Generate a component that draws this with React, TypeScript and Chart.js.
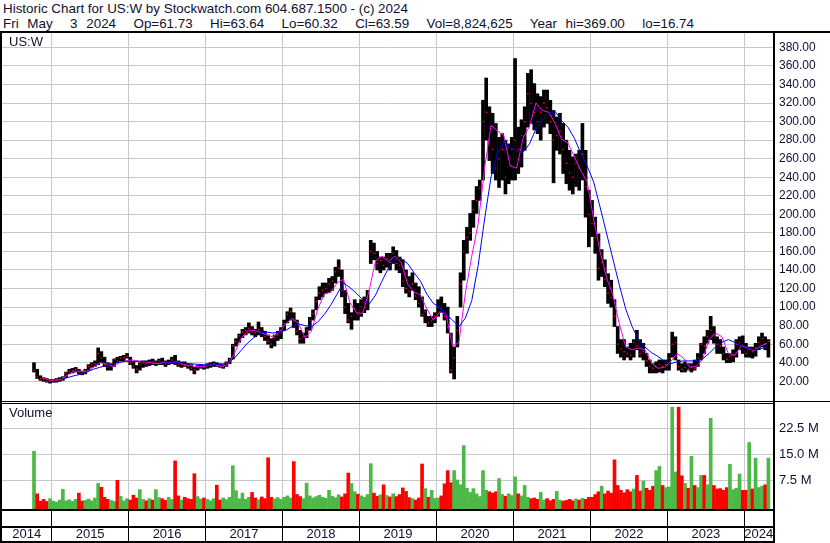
import React, { useEffect, useRef } from 'react';
import { Chart, registerables } from 'chart.js';

Chart.register(...registerables);

const FONT = '"Liberation Sans", Arial, Helvetica, sans-serif';
const TEXT = '#101030';
const GREEN = '#4cb848';
const RED = '#ff0000';

// first half-month period of the series (Oct 2014)
const firstPeriod = 2014.75;

// half-monthly price ranges (US$)
const lows = [
  30, 23, 21, 20, 19, 18,
  19, 19, 20, 21, 24, 28, 29, 30, 28, 27, 28, 32, 35, 36, 38, 40, 36, 32, 32, 36, 40, 42, 42, 45,
  38, 34, 29, 32, 35, 36, 37, 38, 37, 38, 38, 36, 38, 39, 38, 36, 35, 36, 34, 32, 28, 32, 34, 33,
  34, 35, 36, 36, 35, 34, 36, 39, 44, 58, 62, 67, 70, 72, 70, 68, 70, 68, 64, 60, 56, 58, 64, 66,
  75, 83, 86, 78, 70, 61, 61, 67, 75, 86, 97, 108, 111, 115, 116, 118, 126, 133, 111, 93, 83, 76, 86, 86,
  90, 94, 97, 147, 151, 140, 137, 140, 143, 140, 147, 140, 137, 122, 115, 111, 118, 108, 100, 90, 83, 79, 79, 83,
  90, 94, 86, 72, 29, 22.5, 57, 100, 129, 158, 172, 186, 201, 215, 237, 280, 258, 244, 237, 229, 237, 222, 233, 237,
  237, 244, 251, 269, 294, 298, 291, 287, 280, 294, 298, 287, 234, 269, 265, 244, 233, 226, 222, 230, 226, 237, 197, 165,
  176, 158, 129, 133, 122, 104, 100, 79, 50, 46, 43, 46, 43, 46, 54, 46, 43, 36, 29, 29, 29, 30, 29, 32,
  32, 46, 43, 32, 30, 30, 32, 30, 32, 36, 43, 50, 61, 65, 61, 50, 50, 43, 40, 40, 41, 46, 54, 50,
  46, 46, 45, 47, 54, 57, 54, 46,
];
const highs = [
  40, 33, 26, 24, 23, 22,
  22, 23, 24, 25, 30, 33, 34, 35, 33, 31, 33, 38, 40, 42, 56, 52, 46, 40, 39, 44, 46, 47, 48, 50,
  46, 41, 37, 40, 42, 42, 43, 44, 42, 44, 45, 42, 43, 46, 48, 42, 41, 41, 39, 38, 35, 37, 38, 37,
  39, 40, 41, 40, 39, 38, 41, 45, 60, 66, 71, 76, 78, 83, 79, 76, 84, 78, 74, 70, 66, 70, 74, 78,
  86, 95, 99, 94, 86, 75, 72, 78, 89, 97, 111, 122, 126, 126, 131, 133, 143, 151, 140, 118, 104, 94, 108, 104,
  108, 111, 118, 172, 169, 160, 154, 154, 158, 158, 165, 161, 154, 151, 140, 133, 137, 126, 122, 111, 97, 90, 90, 94,
  108, 111, 104, 100, 72, 57, 90, 137, 172, 186, 201, 215, 230, 237, 323, 347, 316, 309, 298, 283, 287, 280, 276, 283,
  368, 294, 302, 316, 352, 356, 341, 330, 327, 334, 334, 323, 312, 305, 309, 298, 280, 269, 262, 265, 269, 298, 269, 226,
  215, 197, 179, 162, 151, 136, 129, 108, 79, 65, 65, 57, 61, 65, 75, 65, 61, 50, 43, 39, 41, 43, 43, 43,
  50, 73, 68, 43, 39, 41, 39, 39, 43, 50, 61, 68, 75, 90, 79, 68, 65, 57, 50, 50, 54, 65, 68, 69,
  61, 57, 57, 61, 68, 72, 68, 65,
];
const closes = [
  32, 25, 23, 22, 20, 20,
  21, 22, 22, 24, 29, 31, 32, 33, 30, 29, 32, 36, 38, 39, 50, 45, 38, 35, 37, 44, 42, 45, 46, 47,
  40, 36, 33, 38, 40, 39, 41, 40, 41, 42, 41, 38, 40, 43, 40, 38, 38, 37, 36, 34, 32, 35, 36, 35,
  37, 38, 39, 37, 36, 36, 40, 43, 58, 63, 69, 73, 75, 77, 73, 72, 76, 72, 68, 63, 60, 67, 70, 73,
  82, 92, 95, 85, 74, 66, 68, 75, 86, 93, 106, 115, 118, 120, 125, 128, 138, 142, 118, 100, 86, 90, 98, 92,
  100, 105, 110, 160, 158, 147, 150, 145, 152, 148, 158, 147, 145, 128, 120, 117, 125, 112, 104, 92, 95, 83, 85, 90,
  100, 98, 90, 78, 32, 45, 75, 125, 160, 175, 180, 205, 215, 228, 300, 310, 280, 270, 250, 260, 270, 240, 260, 270,
  280, 270, 285, 300, 330, 320, 310, 300, 310, 320, 315, 300, 280, 285, 290, 270, 255, 245, 240, 255, 250, 265, 230, 200,
  190, 175, 142, 148, 130, 115, 110, 90, 60, 55, 52, 50, 48, 62, 58, 50, 52, 42, 36, 34, 35, 38, 36, 38,
  45, 60, 62, 36, 33, 35, 33, 36, 34, 45, 60, 58, 68, 75, 70, 60, 58, 50, 44, 47, 48, 60, 62, 58,
  50, 54, 52, 56, 62, 66, 60, 63,
];
// half-monthly volume (millions of shares)
const volumesM = [
  15.9, 3.6, 1.5, 2.0, 1.4, 2.2,
  1.5, 1.2, 1.8, 4.9, 1.6, 1.9, 1.4, 2.0, 3.8, 1.5, 1.7, 2.1, 1.6, 2.4, 6.6, 5.5, 2.6, 2.0, 1.7, 1.4, 7.5, 2.9, 1.6, 2.2,
  1.8, 3.2, 2.4, 4.8, 2.0, 1.6, 2.2, 1.8, 4.8, 2.5, 2.2, 1.7, 2.6, 2.0, 13.1, 3.0, 1.8, 2.6, 2.2, 2.0, 9.4, 2.8, 2.1, 2.4,
  2.0, 1.6, 2.2, 6.1, 1.8, 2.4, 1.9, 2.6, 11.7, 4.5, 2.2, 3.8, 2.0, 2.6, 4.0, 2.4, 1.9, 2.7, 2.2, 14.0, 2.6, 2.1, 2.5, 2.0,
  2.6, 3.0, 2.4, 12.9, 3.4, 2.8, 2.2, 6.7, 3.0, 2.4, 2.8, 3.2, 2.6, 2.3, 4.6, 2.9, 2.5, 3.3, 2.7, 3.6, 9.6, 6.6, 4.2, 3.5,
  3.0, 2.6, 3.4, 12.3, 3.8, 2.9, 3.3, 6.2, 3.1, 2.7, 3.6, 2.8, 3.4, 5.3, 4.3, 2.5, 2.2, 1.8, 2.4, 12.2, 5.1, 2.6, 4.6, 2.3,
  2.4, 3.0, 6.5, 10.3, 6.8, 10.3, 7.6, 6.2, 17.5, 5.2, 4.0, 5.1, 3.6, 2.8, 10.3, 4.6, 4.2, 3.8, 4.2, 8.0, 3.4, 2.9, 3.6, 3.1,
  8.5, 3.6, 3.0, 6.0, 2.6, 2.2, 2.4, 2.0, 4.0, 1.8, 2.2, 1.6, 2.0, 4.3, 1.8, 1.5, 1.7, 2.0, 1.6, 2.1, 1.8, 2.3, 2.0, 2.6,
  2.6, 3.4, 4.2, 5.8, 3.6, 4.4, 3.8, 13.4, 6.0, 4.6, 3.9, 4.8, 4.2, 5.0, 8.9, 4.4, 7.3, 5.2, 4.6, 5.8, 10.3, 11.5, 6.0, 5.4,
  5.6, 28.6, 9.9, 28.6, 8.8, 6.6, 5.2, 14.4, 6.0, 5.4, 8.9, 8.9, 6.2, 25.4, 6.0, 5.0, 5.1, 4.6, 5.4, 12.1, 4.8, 5.2, 9.3, 4.6,
  4.6, 18.4, 5.0, 13.9, 5.4, 5.8, 6.2, 13.9,
];
// monthly moving averages (magenta = short, blue = long)
const maShort = [
  null, 24, 21.5, 21, 22, 27, 31, 31, 30, 35, 40, 39, 36, 40, 42, 43, 42, 41, 40, 39, 40, 40, 41, 38, 37, 36, 36, 37, 38.5, 36,
  38, 50, 66, 74, 75, 73, 70, 68, 73, 82, 88, 82, 67, 74, 98, 114, 116, 126, 130, 105, 94, 93, 118, 150, 155, 149, 155, 148, 125, 116,
  113, 98, 86, 95, 92, 58, 62, 115, 155, 190, 250, 296, 290, 285, 252, 250, 282, 295, 320, 312, 310, 298, 281, 277, 262, 247, 235, 195, 160, 132,
  113, 82, 57, 54, 56, 54, 40, 34, 35, 41, 50, 45, 35, 36, 44, 65, 72, 68, 50, 48, 58, 56, 53, 58, 61,
];
const maLong = [
  null, null, null, null, 22, 24, 26, 27.5, 30, 33, 35, 37, 39, 40.5, 41.5, 41.5, 41.5, 41.5, 41.5, 41.5, 41, 40.5, 40, 39.5, 39, 38.5, 38, 37.5, 38, 38.5,
  40, 45, 53, 61, 67, 72, 73, 72, 73, 75, 79, 82, 80, 79, 84, 92, 102, 114, 126, 121, 115, 108, 103, 113, 128, 142, 151, 152, 147, 137,
  128, 114, 104, 100, 92, 86, 79, 88, 107, 145, 195, 240, 266, 278, 272, 268, 267, 276, 292, 302, 309, 311, 301, 294, 282, 266, 252, 235, 208, 180,
  152, 124, 98, 79, 65, 57, 51, 47, 42, 39, 41, 42, 42, 42, 44, 50, 57, 62, 65, 62, 58, 55, 54, 55, 57,
];

const priceTicks = [20, 40, 60, 80, 100, 120, 140, 160, 180, 200, 220, 240, 260, 280, 300, 320, 340, 360, 380];
const volumeTicks = [7.5, 15, 22.5];
const yearStarts = [2015, 2016, 2017, 2018, 2019, 2020, 2021, 2022, 2023, 2024];
const yearLabels = ['2014', '2015', '2016', '2017', '2018', '2019', '2020', '2021', '2022', '2023', '2024'];

const xMin = 2014.355;
const xMax = 2024.372;
const priceMin = -1.24;
const priceMax = 396.6;
const volMin = -0.78;
const volMax = 30.38;

const halfMonthX = (i: number) => firstPeriod + (i + 0.5) / 24;
const monthX = (k: number) => firstPeriod + (k + 0.5) / 12;
const isBoundary = (v: number) => yearStarts.includes(v);

const noPad = (s: any) => {
  s.paddingTop = 0;
  s.paddingBottom = 0;
  s.paddingLeft = 0;
  s.paddingRight = 0;
};

const framePlugin = {
  id: 'frame',
  afterDraw(chart: any) {
    const ctx = chart.ctx;
    const { right, bottom } = chart.chartArea;
    const split = chart.scales.yv.top;
    ctx.save();
    ctx.fillStyle = '#000';
    ctx.fillRect(0, 0, chart.width, 2);
    ctx.fillRect(0, 0, 2, chart.height);
    ctx.fillRect(right, 0, 2, chart.height);
    ctx.fillRect(0, split, chart.width, 1);
    ctx.fillRect(0, split + 2, right, 1);
    ctx.fillRect(0, bottom, right + 2, 2);
    ctx.fillRect(0, bottom + 17, right + 2, 2);
    ctx.fillRect(0, chart.height - 2, right + 2, 2);
    ctx.restore();
  },
};

export default function App() {
  const canvasRef = useRef<HTMLCanvasElement | null>(null);

  useEffect(() => {
    document.body.style.margin = '0';
    const canvas = canvasRef.current;
    if (!canvas) return;

    const priceBars = lows.map((l, i) => ({ x: halfMonthX(i), y: [l, highs[i]] }));
    const closePts = closes.map((c, i) => ({ x: halfMonthX(i), y: c }));
    const volBars = volumesM.map((v, i) => ({ x: halfMonthX(i), y: v }));
    const volColors = volumesM.map((_, i) => (i === 0 || closes[i] >= closes[i - 1] ? GREEN : RED));
    const shortPts = maShort.map((v, k) => ({ x: monthX(k), y: v }));
    const longPts = maLong.map((v, k) => ({ x: monthX(k), y: v }));

    const chart = new Chart(canvas, {
      type: 'bar',
      data: {
        datasets: [
          {
            type: 'line', data: longPts as any, borderColor: '#0000ff', borderWidth: 1,
            pointRadius: 0, yAxisID: 'y', order: 1, spanGaps: false,
          },
          {
            type: 'line', data: shortPts as any, borderColor: '#ff00ff', borderWidth: 1,
            pointRadius: 0, yAxisID: 'y', order: 2, spanGaps: false,
          },
          {
            type: 'line', data: closePts as any, showLine: false, pointStyle: 'rect',
            pointRadius: 1, pointBorderWidth: 0, pointBackgroundColor: RED, borderColor: RED,
            yAxisID: 'y', order: 3,
          },
          {
            type: 'bar', data: priceBars as any, backgroundColor: '#000000', barThickness: 3,
            grouped: false, yAxisID: 'y', order: 4,
          },
          {
            type: 'bar', data: volBars as any, backgroundColor: volColors, barThickness: 3,
            grouped: false, yAxisID: 'yv', base: volMin, order: 5,
          },
        ] as any,
      },
      options: {
        animation: false,
        responsive: false,
        devicePixelRatio: 1,
        events: [],
        layout: { padding: { left: 2, top: 1, right: 0, bottom: 0 }, autoPadding: false } as any,
        plugins: { legend: { display: false }, tooltip: { enabled: false }, title: { display: false } },
        scales: {
          x: {
            type: 'linear', position: 'bottom', min: xMin, max: xMax, offset: false,
            afterBuildTicks: (s: any) => {
              const bounds = [xMin, ...yearStarts, xMax];
              const t: any[] = [];
              for (let j = 0; j < yearLabels.length; j++) {
                t.push({ value: (bounds[j] + bounds[j + 1]) / 2 });
                if (j < yearStarts.length) t.push({ value: yearStarts[j] });
              }
              s.ticks = t;
            },
            afterFit: (s: any) => { s.height = 34; noPad(s); },
            grid: {
              offset: false,
              color: (c: any) => (c.tick && isBoundary(c.tick.value) ? '#c8c8c8' : 'rgba(0,0,0,0)'),
              tickColor: (c: any) => (c.tick && isBoundary(c.tick.value) ? '#000000' : 'rgba(0,0,0,0)'),
              tickLength: 32, lineWidth: 1, tickWidth: 1, drawTicks: true,
            },
            border: { display: false },
            ticks: {
              autoSkip: false, maxRotation: 0, minRotation: 0, padding: -14, color: TEXT,
              font: { family: FONT, size: 13 },
              callback: (v: any) => {
                const n = Number(v);
                if (isBoundary(n)) return '';
                return yearLabels[Math.max(0, Math.floor(n) - 2014)];
              },
            },
          } as any,
          y: {
            type: 'linear', position: 'right', stack: 'panels', stackWeight: 369,
            min: priceMin, max: priceMax,
            afterBuildTicks: (s: any) => { s.ticks = priceTicks.map((v) => ({ value: v })); },
            afterFit: (s: any) => { s.width = 57; noPad(s); },
            grid: { color: '#c8c8c8', drawTicks: false, lineWidth: 1 },
            border: { display: false },
            ticks: {
              autoSkip: false, padding: 6, color: TEXT, font: { family: FONT, size: 12 },
              callback: (v: any) => Number(v).toFixed(2),
            },
          } as any,
          yv: {
            type: 'linear', position: 'right', stack: 'panels', stackWeight: 108,
            min: volMin, max: volMax,
            afterBuildTicks: (s: any) => { s.ticks = volumeTicks.map((v) => ({ value: v })); },
            afterFit: (s: any) => { s.width = 57; noPad(s); },
            grid: { color: '#c8c8c8', drawTicks: false, lineWidth: 1 },
            border: { display: false },
            ticks: {
              autoSkip: false, padding: 6, color: TEXT, font: { family: FONT, size: 13 },
              callback: (v: any) => Number(v).toFixed(1) + ' M',
            },
          } as any,
        },
      },
      plugins: [framePlugin],
    });

    return () => chart.destroy();
  }, []);

  const textStyle: React.CSSProperties = {
    position: 'absolute', fontFamily: FONT, fontSize: 13, lineHeight: '15px', color: TEXT,
    whiteSpace: 'pre', margin: 0,
  };

  return (
    <div style={{ position: 'absolute', left: 0, top: 0, width: 830, height: 543, background: '#fff', overflow: 'hidden' }}>
      <div style={{ ...textStyle, fontSize: 13.4, left: 3, top: 1 }}>
        {'Historic Chart for US:W by Stockwatch.com 604.687.1500 - (c) 2024'}
      </div>
      <div style={{ ...textStyle, fontSize: 13.4, left: 3, top: 16, wordSpacing: 5 }}>
        {'Fri May  3 2024  Op=61.73  Hi=63.64  Lo=60.32  Cl=63.59  Vol=8,824,625  Year hi=369.00  lo=16.74'}
      </div>
      <canvas ref={canvasRef} width={830} height={512} style={{ position: 'absolute', left: 0, top: 31, width: 830, height: 512 }} />
      <div style={{ ...textStyle, left: 9, top: 34 }}>US:W</div>
      <div style={{ ...textStyle, left: 9, top: 405 }}>Volume</div>
    </div>
  );
}
